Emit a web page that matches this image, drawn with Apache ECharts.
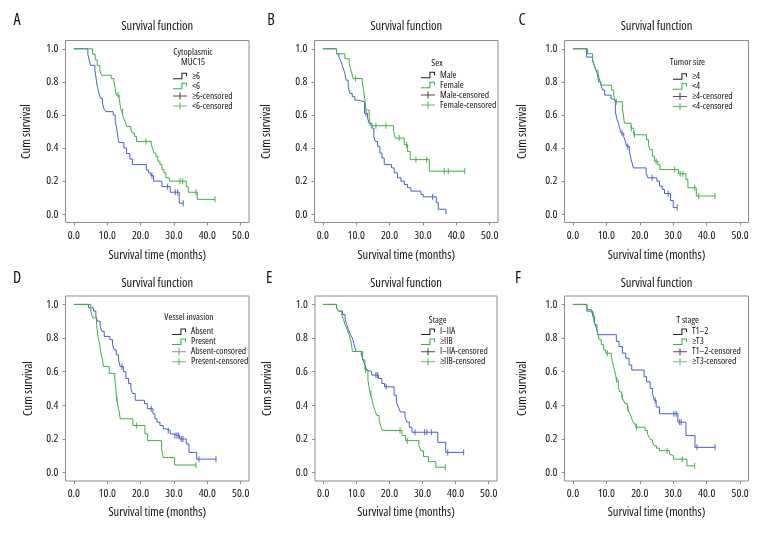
<!DOCTYPE html>
<html><head><meta charset="utf-8">
<script src="https://cdn.jsdelivr.net/npm/echarts@6/dist/echarts.min.js"></script>
<style>html,body{margin:0;padding:0;background:#fff}#c{width:768px;height:540px}</style>
</head><body><div id="c"></div>
<script>
// ---------- data ----------
const panelLetters = ['A','B','C','D','E','F'];
const legendTitles = ['Cytoplasmic\nMUC15','Sex','Tumor size','Vessel invasion','Stage','T stage'];
const group1Names = ['≥6','Male','≥4','Absent','I–IIA','T1–2'];
const group2Names = ['<6','Female','<4','Present','≥IIB','≥T3'];
const censor1Names = ['≥6-censored','Male-censored','≥4-censored','Absent-consored','I–IIA-censored','T1–2-censored'];
const censor2Names = ['<6-censored','Female-censored','<4-censored','Present-censored','≥IIB-censored','≥T3-censored'];
const chartTitle = 'Survival function';
const xAxisTitle = 'Survival time (months)';
const yAxisTitle = 'Cum survival';
const xTicks = [0,10,20,30,40,50];
const yTicks = [0,0.2,0.4,0.6,0.8,1.0];

// Panel A
const A_g1 = [[0,1],[4.2,0.967],[4.6,0.933],[5.0,0.9],[6.3,0.867],[6.6,0.833],[6.8,0.8],[7.1,0.767],[7.5,0.733],[8.0,0.7],[8.6,0.667],[9.1,0.633],[9.6,0.62],[11.8,0.6],[12.4,0.567],[12.7,0.533],[13.0,0.5],[13.2,0.467],[13.5,0.433],[15.0,0.4],[15.8,0.367],[16.8,0.333],[17.6,0.3],[21.7,0.267],[22.4,0.25],[23.1,0.233],[23.9,0.2],[26.4,0.167],[28.9,0.133],[31.6,0.067],[32.8,0.067]];
const A_c1 = [[23.4,0.233],[28.1,0.167],[30.4,0.133],[31.1,0.133],[32.8,0.067]];
const A_g2 = [[0,1],[5.6,0.967],[6.4,0.933],[7.0,0.9],[7.8,0.867],[8.3,0.84],[11.2,0.82],[12.0,0.8],[12.4,0.76],[12.7,0.72],[13.6,0.70],[14.0,0.64],[14.4,0.62],[14.9,0.58],[15.4,0.56],[15.8,0.53],[17.1,0.51],[17.6,0.49],[18.2,0.47],[18.8,0.44],[23.2,0.42],[23.6,0.40],[24.0,0.37],[24.6,0.35],[25.2,0.32],[25.8,0.30],[26.4,0.27],[27.0,0.25],[27.6,0.22],[28.6,0.2],[33.7,0.167],[34.3,0.133],[37.0,0.09],[42.3,0.09]];
const A_c2 = [[13.3,0.72],[14.6,0.62],[21.6,0.44],[31.8,0.2],[32.6,0.2],[36.6,0.133],[42.3,0.09]];
// Panel B
const B_g1 = [[0,1],[4.1,0.97],[4.8,0.95],[5.3,0.93],[5.8,0.9],[6.3,0.87],[6.6,0.85],[7.0,0.81],[7.6,0.77],[8.1,0.73],[8.8,0.71],[9.6,0.69],[10.3,0.68],[12.5,0.61],[13.4,0.58],[13.9,0.55],[14.7,0.52],[15.3,0.47],[15.7,0.44],[16.4,0.41],[17.1,0.37],[17.7,0.34],[18.4,0.30],[20.6,0.28],[21.4,0.25],[22.4,0.22],[23.4,0.20],[24.4,0.18],[25.4,0.16],[26.4,0.14],[29.4,0.12],[30.1,0.105],[34.0,0.07],[34.6,0.03],[36.9,0.0]];
const B_c1 = [[12.9,0.61],[32.9,0.105]];
const B_g2 = [[0,1],[4.1,0.97],[6.6,0.94],[7.9,0.91],[8.3,0.88],[8.7,0.85],[9.1,0.82],[11.8,0.80],[12.2,0.75],[12.6,0.69],[12.9,0.63],[13.9,0.58],[14.3,0.535],[21.2,0.50],[21.7,0.46],[24.4,0.42],[25.4,0.38],[26.2,0.33],[31.9,0.26],[42.5,0.26]];
const B_c2 = [[9.8,0.82],[15.9,0.535],[18.9,0.535],[22.9,0.46],[25.1,0.42],[27.9,0.33],[31.1,0.33],[36.4,0.26],[37.6,0.26],[42.5,0.26]];
// Panel C
const C_g1 = [[0,1],[4.1,0.95],[5.9,0.93],[6.4,0.90],[6.9,0.87],[7.3,0.85],[7.7,0.80],[8.4,0.78],[8.9,0.75],[9.5,0.72],[11.4,0.70],[11.9,0.69],[12.7,0.62],[13.1,0.58],[13.6,0.55],[14.0,0.52],[14.4,0.49],[15.2,0.47],[15.7,0.44],[16.1,0.41],[16.9,0.38],[17.3,0.34],[17.7,0.31],[18.1,0.28],[21.9,0.25],[22.4,0.22],[25.1,0.20],[25.9,0.17],[26.7,0.15],[27.4,0.125],[29.2,0.083],[30.0,0.04],[31.2,0.04]];
const C_c1 = [[14.7,0.49],[16.4,0.41],[23.7,0.22],[28.5,0.125],[31.2,0.04]];
const C_g2 = [[0,1],[4.4,0.97],[5.9,0.93],[6.4,0.90],[6.9,0.87],[7.5,0.85],[7.9,0.82],[8.4,0.78],[11.6,0.75],[12.2,0.72],[12.7,0.68],[14.8,0.64],[15.1,0.60],[15.4,0.55],[17.4,0.52],[18.2,0.48],[22.0,0.45],[22.6,0.42],[23.0,0.39],[23.8,0.35],[24.4,0.32],[25.4,0.30],[26.0,0.27],[31.6,0.245],[33.8,0.21],[34.4,0.16],[36.9,0.11],[42.5,0.11]];
const C_c2 = [[13.0,0.68],[17.5,0.52],[18.4,0.48],[24.9,0.32],[30.4,0.27],[32.1,0.245],[32.9,0.245],[36.4,0.16],[37.6,0.11],[42.5,0.11]];
// Panel D
const D_g1 = [[0,1],[4.4,0.98],[5.9,0.96],[6.6,0.93],[7.1,0.90],[7.9,0.87],[8.4,0.84],[9.1,0.81],[10.8,0.79],[11.6,0.76],[12.1,0.73],[12.7,0.70],[13.4,0.67],[13.9,0.63],[14.9,0.60],[15.6,0.56],[16.4,0.53],[17.1,0.50],[17.6,0.47],[18.4,0.43],[21.2,0.41],[22.0,0.38],[23.7,0.35],[24.3,0.32],[24.9,0.30],[25.8,0.28],[26.8,0.26],[27.7,0.25],[28.9,0.23],[29.7,0.22],[31.7,0.20],[33.7,0.17],[34.5,0.12],[36.8,0.08],[42.6,0.08]];
const D_c1 = [[14.4,0.63],[23.2,0.38],[28.3,0.25],[30.3,0.22],[30.9,0.22],[31.4,0.22],[32.2,0.20],[32.7,0.20],[37.5,0.08],[42.6,0.08]];
const D_g2 = [[0,1],[5.1,0.96],[5.6,0.92],[6.8,0.88],[7.2,0.81],[7.6,0.78],[7.9,0.74],[8.2,0.70],[8.6,0.67],[8.9,0.63],[10.6,0.59],[12.3,0.55],[12.6,0.50],[12.8,0.44],[13.2,0.40],[13.6,0.36],[13.9,0.32],[17.7,0.28],[21.3,0.23],[22.1,0.19],[26.3,0.14],[26.8,0.09],[30.2,0.045],[36.6,0.045]];
const D_c2 = [[12.9,0.44],[18.8,0.28],[36.6,0.045]];
// Panel E
const E_g1 = [[0,1],[4.0,0.98],[4.6,0.96],[5.8,0.94],[6.6,0.91],[7.1,0.88],[7.6,0.85],[8.2,0.82],[8.8,0.80],[9.2,0.77],[9.6,0.74],[10.0,0.72],[11.5,0.70],[12.0,0.67],[12.6,0.64],[13.1,0.61],[13.6,0.60],[14.6,0.58],[16.7,0.56],[17.7,0.53],[18.5,0.51],[21.4,0.46],[22.1,0.42],[22.7,0.39],[23.3,0.36],[24.7,0.33],[25.3,0.30],[26.0,0.27],[26.8,0.24],[34.6,0.18],[37.0,0.12],[42.4,0.12]];
const E_c1 = [[15.9,0.58],[16.4,0.58],[19.0,0.51],[27.7,0.24],[30.6,0.24],[31.3,0.24],[32.7,0.24],[37.6,0.12],[42.4,0.12]];
const E_g2 = [[0,1],[4.0,0.98],[4.6,0.96],[5.6,0.94],[6.1,0.91],[6.6,0.88],[7.2,0.85],[7.8,0.82],[8.4,0.78],[8.8,0.72],[11.9,0.67],[12.6,0.61],[13.5,0.55],[13.9,0.50],[14.2,0.47],[14.8,0.43],[15.1,0.40],[15.6,0.37],[16.2,0.34],[16.9,0.31],[17.3,0.28],[17.9,0.25],[23.8,0.22],[24.9,0.19],[28.9,0.16],[29.5,0.13],[30.3,0.095],[31.8,0.065],[34.0,0.032],[36.9,0.032]];
const E_c2 = [[12.8,0.61],[14.4,0.47],[23.2,0.25],[25.4,0.19],[36.9,0.032]];
// Panel F
const F_g1 = [[0,1],[4.2,0.96],[5.9,0.93],[6.5,0.89],[7.0,0.86],[7.5,0.82],[13.0,0.78],[13.8,0.75],[14.8,0.71],[15.8,0.68],[16.8,0.64],[17.6,0.61],[21.3,0.57],[22.0,0.54],[23.1,0.50],[23.8,0.47],[24.3,0.43],[24.9,0.39],[25.9,0.35],[31.4,0.30],[33.8,0.22],[36.5,0.15],[42.5,0.15]];
const F_c1 = [[24.6,0.43],[30.2,0.35],[30.9,0.35],[31.9,0.30],[32.4,0.30],[37.1,0.15],[42.5,0.15]];
const F_g2 = [[0,1],[4.2,0.97],[5.5,0.95],[6.1,0.92],[6.5,0.88],[7.2,0.85],[7.5,0.82],[7.9,0.79],[8.5,0.76],[9.2,0.73],[9.8,0.71],[11.5,0.69],[11.8,0.66],[12.3,0.62],[12.8,0.58],[13.0,0.55],[13.6,0.51],[14.0,0.48],[14.6,0.45],[15.1,0.43],[15.6,0.41],[16.3,0.38],[16.8,0.36],[17.3,0.34],[17.8,0.31],[18.2,0.29],[18.8,0.27],[21.6,0.25],[22.3,0.23],[22.8,0.21],[23.2,0.195],[23.8,0.18],[24.3,0.16],[25.0,0.145],[25.9,0.13],[28.9,0.11],[29.4,0.10],[30.1,0.08],[34.1,0.04],[36.4,0.04]];
const F_c2 = [[10.3,0.71],[13.1,0.55],[14.8,0.45],[16.5,0.38],[19.0,0.27],[28.2,0.13],[32.7,0.08],[36.4,0.04]];

// ---------- layout / style ----------
const FAM = '"Open Sans", sans-serif';
const STRETCH = 'condensed';
const BLUE = '#4c5ec6', GREEN = '#40ad48', TXT = '#111';
const panelData = [
  [A_g1, A_g2, A_c1, A_c2], [B_g1, B_g2, B_c1, B_c2], [C_g1, C_g2, C_c1, C_c2],
  [D_g1, D_g2, D_c1, D_c2], [E_g1, E_g2, E_c1, E_c2], [F_g1, F_g2, F_c1, F_c2]
];
const L = [
  {left:65.5, top:40.5, width:183.5, height:182, yGap:33, xGap:26.5, lgLeft:173, lgTop:71, tX:157.3, tY:26, letX:17, letY:20, ltX:193, ltY:57, c1:'#222'},
  {left:314.5, top:40.5, width:183.5, height:182, yGap:42, xGap:26.5, lgLeft:421, lgTop:70, tX:406.3, tY:26, letX:271, letY:20, ltX:437, ltY:63.3, c1:'#222'},
  {left:564.5, top:40.5, width:184, height:182, yGap:36, xGap:26.5, lgLeft:673, lgTop:71.5, tX:656.5, tY:26, letX:522, letY:20, ltX:687.5, ltY:62.7, c1:'#222'},
  {left:65.5, top:296, width:183.5, height:185, yGap:31, xGap:24.5, lgLeft:172, lgTop:326.7, tX:157.3, tY:283.3, letX:17, letY:278, ltX:189, ltY:317.7, c1:'#777'},
  {left:315, top:296, width:182, height:185, yGap:41, xGap:24.5, lgLeft:421, lgTop:326.7, tX:406, tY:283.3, letX:269.3, letY:278, ltX:437.7, ltY:320, c1:'#222'},
  {left:564.5, top:296, width:184, height:185, yGap:36, xGap:24.5, lgLeft:673, lgTop:326.7, tX:656.5, tY:283.3, letX:518, letY:278, ltX:687.8, ltY:320, c1:'#222'}
];
const STEP_ICON = 'path://M0,8.6H12V0.8H20V5.8H18.5V2.3H13.5V10H0Z';
const CROSS_ICON = 'path://M0,4.3H20V5.7H0Z M9.2,0H10.8V10H9.2Z';
const ts = (size) => ({fontFamily:FAM, fontStyle:STRETCH, fontSize:size, color:TXT});

const grid = [], xAxis = [], yAxis = [], series = [], legend = [], graphic = [];
L.forEach((p, i) => {
  grid.push({left:p.left, top:p.top, width:p.width, height:p.height, show:true, borderColor:'#8c8c8c', borderWidth:1, backgroundColor:'#fff', containLabel:false, outerBoundsMode:'none'});
  xAxis.push({type:'value', gridIndex:i, min:-2.5, max:52.5,
    axisLine:{show:false, onZero:false}, splitLine:{show:false},
    axisTick:{show:true, length:3, customValues:xTicks, lineStyle:{color:'#8c8c8c'}},
    axisLabel:Object.assign({customValues:xTicks, formatter:v=>v.toFixed(1), margin:7}, ts(11.5)),
    name:xAxisTitle, nameLocation:'middle', nameGap:p.xGap, nameTextStyle:ts(12.5)});
  yAxis.push({type:'value', gridIndex:i, min:-0.05, max:1.05,
    axisLine:{show:false, onZero:false}, splitLine:{show:false},
    axisTick:{show:true, length:3, customValues:yTicks, lineStyle:{color:'#8c8c8c'}},
    axisLabel:Object.assign({customValues:yTicks, formatter:v=>v.toFixed(1), margin:7}, ts(11.5)),
    name:yAxisTitle, nameLocation:'middle', nameGap:p.yGap, nameRotate:90, nameTextStyle:ts(12.5)});
  const [g1, g2, c1, c2] = panelData[i];
  series.push({type:'line', name:group1Names[i], data:g1, step:'end', xAxisIndex:i, yAxisIndex:i, symbol:'none', lineStyle:{color:BLUE, width:1}, itemStyle:{color:BLUE}, animation:false, silent:true});
  series.push({type:'line', name:group2Names[i], data:g2, step:'end', xAxisIndex:i, yAxisIndex:i, symbol:'none', lineStyle:{color:GREEN, width:1}, itemStyle:{color:GREEN}, animation:false, silent:true});
  series.push({type:'scatter', name:censor1Names[i], data:c1, xAxisIndex:i, yAxisIndex:i, symbol:'rect', symbolSize:[1.2,6], itemStyle:{color:BLUE}, animation:false, silent:true});
  series.push({type:'scatter', name:censor2Names[i], data:c2, xAxisIndex:i, yAxisIndex:i, symbol:'rect', symbolSize:[1.2,6], itemStyle:{color:GREEN}, animation:false, silent:true});
  legend.push({orient:'vertical', left:p.lgLeft, top:p.lgTop, itemWidth:14, itemHeight:7, itemGap:0, padding:0, selectedMode:false,
    textStyle:Object.assign({lineHeight:10}, ts(9.5)),
    data:[
      {name:group1Names[i], icon:STEP_ICON, itemStyle:{color:'#222'}},
      {name:group2Names[i], icon:STEP_ICON, itemStyle:{color:GREEN}},
      {name:censor1Names[i], icon:CROSS_ICON, itemStyle:{color:p.c1}},
      {name:censor2Names[i], icon:CROSS_ICON, itemStyle:{color:GREEN}}
    ]});
  graphic.push({type:'text', x:p.tX, y:p.tY, style:{text:chartTitle, font:STRETCH + ' 12.5px ' + FAM, fill:TXT, align:'center', verticalAlign:'middle'}});
  graphic.push({type:'text', x:p.letX, y:p.letY, style:{text:panelLetters[i], font:STRETCH + ' 16px ' + FAM, fill:TXT, align:'center', verticalAlign:'middle'}});
  graphic.push({type:'text', x:p.ltX, y:p.ltY, style:{text:legendTitles[i], font:STRETCH + ' 9.5px ' + FAM, lineHeight:10, fill:TXT, align:'center', verticalAlign:'middle'}});
});

const chart = echarts.init(document.getElementById('c'), null, {renderer:'canvas'});
chart.setOption({animation:false, backgroundColor:'#fff', grid, xAxis, yAxis, series, legend, graphic});
</script></body></html>
